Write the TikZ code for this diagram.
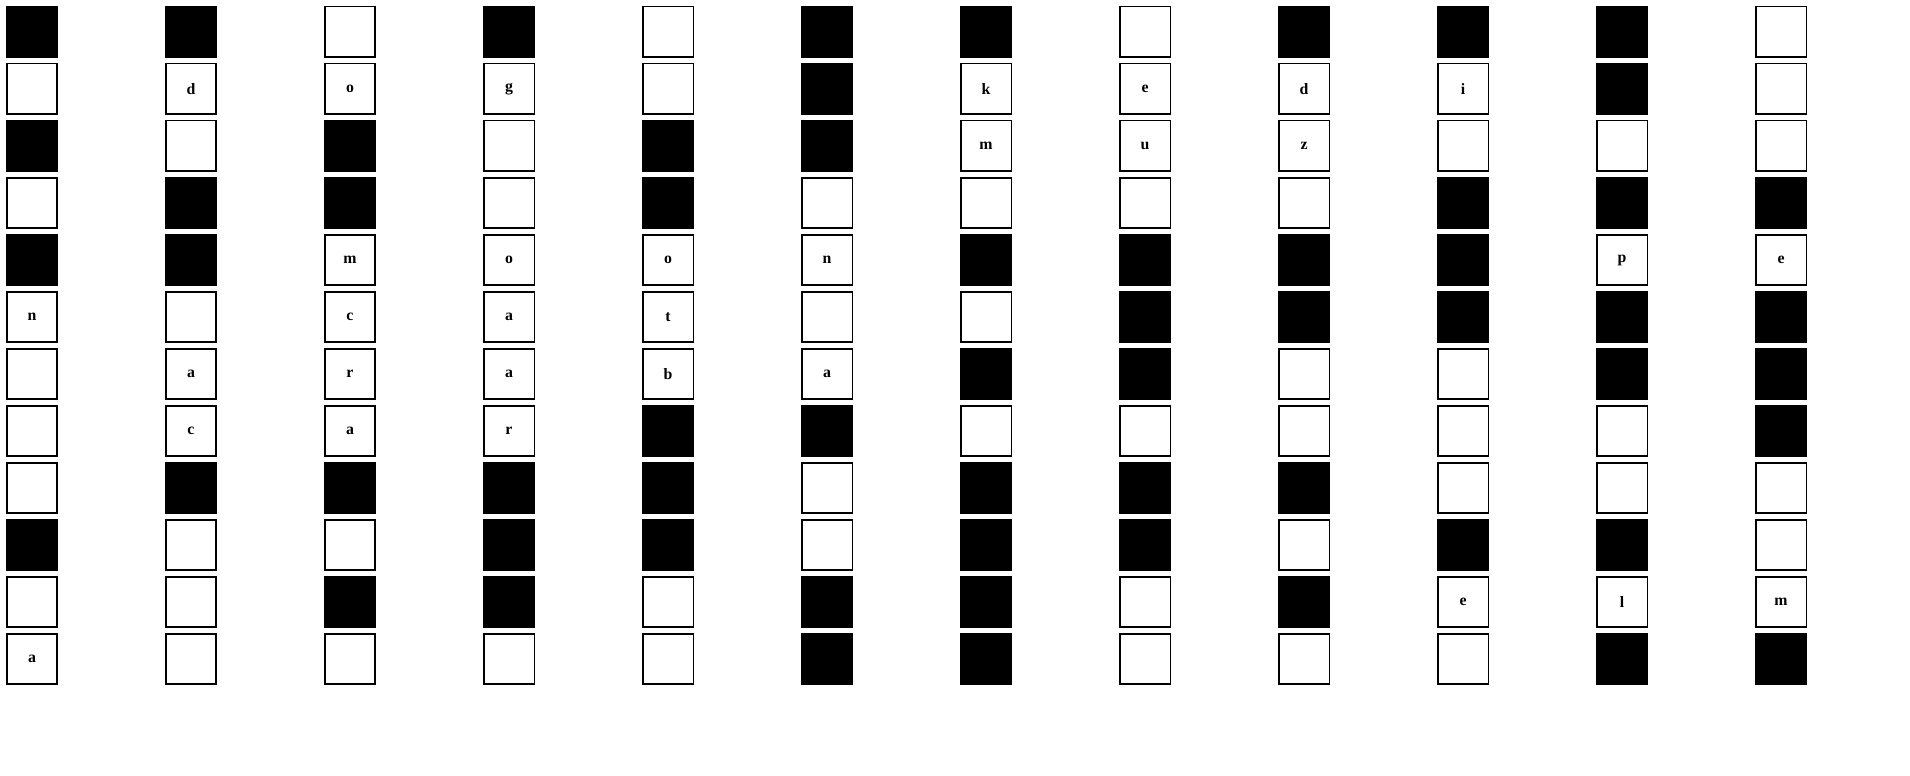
\documentclass[tikz,border=0pt]{standalone}
\usepackage{fontspec}
\setmainfont{Liberation Serif}
\usetikzlibrary{
	positioning
}

\begin{document}
\begin{tikzpicture}[
	x=0.02cm, y=-0.02cm,
	box/.style={draw, line width=0.03cm, minimum size=1.01cm, inner sep=0pt,
		font=\fontsize{9}{11}\selectfont\bfseries},
	filled/.style={box, fill=black}
]
	\useasboundingbox (0,0) rectangle (1910,776);
	\foreach \column [count=\x] in {
		{B,W,B,W,B,n,W,W,W,B,W,a},
		{B,d,W,B,B,W,a,c,B,W,W,W},
		{W,o,B,B,m,c,r,a,B,W,B,W},
		{B,g,W,W,o,a,a,r,B,B,B,W},
		{W,W,B,B,o,t,b,B,B,B,W,W},
		{B,B,B,W,n,W,a,B,W,W,B,B},
		{B,k,m,W,B,W,B,W,B,B,B,B},
		{W,e,u,W,B,B,B,W,B,B,W,W},
		{B,d,z,W,B,B,W,W,B,W,B,W},
		{B,i,W,B,B,B,W,W,W,B,e,W},
		{B,B,W,B,p,B,B,W,W,B,l,B},
		{W,W,W,B,e,B,B,B,W,W,m,B}}
		\foreach \cell [count=\y] in \column {
			\if\cell B
				\node [filled] (box-\x-\y) at ({32+159*(\x-1)},{32+57*(\y-1)}) {};
			\else\if\cell W
				\node [box] (box-\x-\y) at ({32+159*(\x-1)},{32+57*(\y-1)}) {};
			\else
				\node [box] (box-\x-\y) at ({32+159*(\x-1)},{32+57*(\y-1)}) {\cell};
			\fi\fi
		};
\end{tikzpicture}
\end{document}
